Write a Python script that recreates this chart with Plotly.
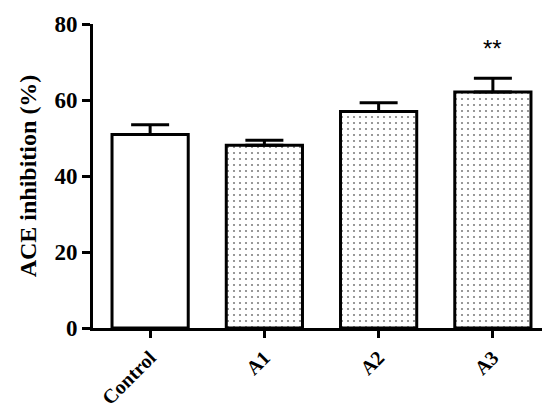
import plotly.graph_objects as go

# --- DATA ---
groups = ["Control", "A1", "A2", "A3"]
inhibition = [50.9, 48.1, 57.0, 62.1]
sem = [2.6, 1.3, 2.3, 3.6]
patterns = ["", ".", ".", "."]
sig_labels = ["", "", "", "**"]
sig_y = [0, 0, 0, 73.5]

FONT = "Liberation Serif"

fig = go.Figure()

fig.add_trace(go.Bar(
    x=groups, y=inhibition,
    width=0.667,
    marker=dict(
        color="white",
        line=dict(color="black", width=3),
        pattern=dict(shape=patterns, fgcolor="black", bgcolor="white",
                     size=6, solidity=0.1),
    ),
    error_y=dict(type="data", array=sem, arrayminus=[0] * len(sem),
                 symmetric=False, color="black", thickness=3, width=19),
    showlegend=False,
))

# significance marks
for g, lab, yv in zip(groups, sig_labels, sig_y):
    if lab:
        fig.add_annotation(x=g, y=yv, text=lab, showarrow=False,
                           font=dict(family="Liberation Sans", size=24, color="black"))

fig.update_layout(
    width=550, height=412,
    margin=dict(l=85, r=8, t=16, b=92),
    paper_bgcolor="white", plot_bgcolor="white",
    font=dict(family=FONT, color="black"),
    xaxis=dict(
        range=[-0.5, 3.5], showline=True, linecolor="black", linewidth=3,
        ticks="outside", ticklen=7, tickwidth=3, tickcolor="black",
        tickangle=-45, automargin=False,
        tickfont=dict(family=FONT, size=20, color="black", weight="bold"),
        showgrid=False,
    ),
    yaxis=dict(
        range=[0, 80], tickvals=[0, 20, 40, 60, 80],
        showline=True, linecolor="black", linewidth=3,
        ticks="outside", ticklen=8, tickwidth=3, tickcolor="black",
        automargin=False,
        tickfont=dict(family=FONT, size=23, color="black", weight="bold"),
        title=dict(text="ACE inhibition (%)",
                   font=dict(family=FONT, size=24, color="black", weight="bold"),
                   standoff=12),
        showgrid=False, zeroline=False,
    ),
)

fig.write_html("out.html")
